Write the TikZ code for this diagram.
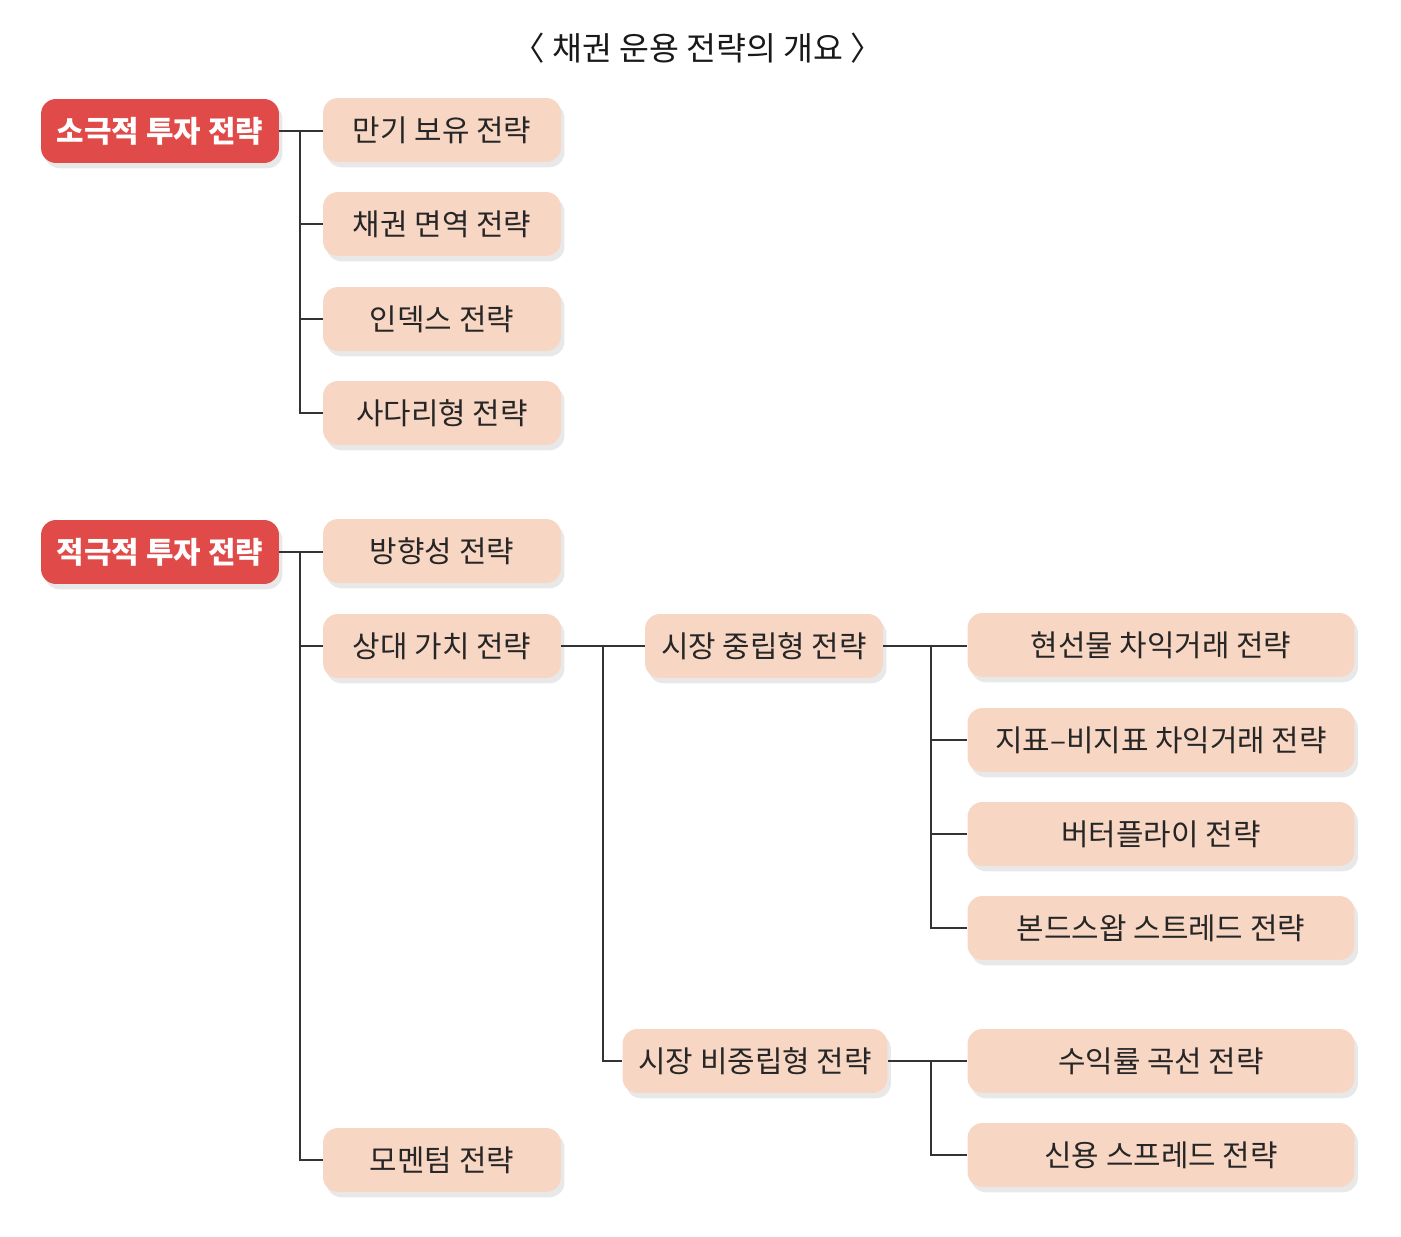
\documentclass[tikz,border=0pt]{standalone}
\usepackage{fontspec}
\setmainfont{Noto Sans CJK KR}
\usepackage{xcolor}
\usetikzlibrary{shadows}
\definecolor{accentColor}{RGB}{224, 74, 72}
\definecolor{boxColor}{RGB}{248, 214, 196}
\definecolor{lineColor}{RGB}{51, 51, 51}

\begin{document}
\begin{tikzpicture}[x=0.02cm, y=-0.02cm, font=\fontsize{17pt}{20pt}\selectfont,
    baseBox/.style={rounded corners=0.3cm, minimum height=1.28cm, inner sep=0pt,
        drop shadow={opacity=0.18, shadow xshift=2pt, shadow yshift=-3pt}},
    redBox/.style={baseBox, fill=accentColor, text=white, font=\fontsize{17pt}{20pt}\selectfont\bfseries, minimum width=4.76cm},
    peachBox/.style={baseBox, fill=boxColor, text=black!85, minimum width=4.76cm},
    wideBox/.style={peachBox, minimum width=7.74cm},
    branch/.style={lineColor, line width=1.2pt}]
					\useasboundingbox (0, 0) rectangle (1401, 1237);
					
					% Title
					\node[font=\fontsize{18.5pt}{22pt}\selectfont, text=black!90] (title) at (698, 48) {〈 채권 운용 전략의 개요 〉};
					
					% Passive strategies
					\node[redBox] (passive) at (160, 131) {소극적 투자 전략};
					\node[peachBox] (hold) at (442, 130) {만기 보유 전략};
					\node[peachBox] (immun) at (442, 224) {채권 면역 전략};
					\node[peachBox] (index) at (442, 319) {인덱스 전략};
					\node[peachBox] (ladder) at (442, 413) {사다리형 전략};
					
					% Active strategies
					\node[redBox] (active) at (160, 552) {적극적 투자 전략};
					\node[peachBox] (direction) at (442, 551) {방향성 전략};
					\node[peachBox] (relative) at (442, 646) {상대 가치 전략};
					\node[peachBox] (momentum) at (442, 1160) {모멘텀 전략};
					
					% Relative value branches
					\node[peachBox] (neutral) at (764, 646) {시장 중립형 전략};
					\node[peachBox, minimum width=5.3cm] (nonneutral) at (755, 1061) {시장 비중립형 전략};
					
					\node[wideBox] (arbitrage) at (1161, 645) {현선물 차익거래 전략};
					\node[wideBox] (benchmark) at (1161, 740) {지표–비지표 차익거래 전략};
					\node[wideBox] (butterfly) at (1161, 834) {버터플라이 전략};
					\node[wideBox] (swap) at (1161, 928) {본드스왑 스트레드 전략};
					\node[wideBox] (curve) at (1161, 1061) {수익률 곡선 전략};
					\node[wideBox] (credit) at (1161, 1155) {신용 스프레드 전략};
					
					% Connectors
					\coordinate (trunkA) at (300, 131);
					\coordinate (trunkB) at (300, 552);
					\coordinate (trunkC) at (603, 646);
					\coordinate (trunkD) at (931, 646);
					\coordinate (trunkE) at (931, 1061);
					
					\draw[branch] (passive.east) -- (passive.east -| hold.west);
					\foreach \n in {immun, index, ladder}
						\draw[branch] (trunkA) |- (\n.west);
					
					\draw[branch] (active.east) -- (active.east -| direction.west);
					\foreach \n in {relative, momentum}
						\draw[branch] (trunkB) |- (\n.west);
					
					\draw[branch] (relative.east) -- (neutral.west);
					\draw[branch] (trunkC) |- (nonneutral.west);
					
					\draw[branch] (neutral.east) -- (neutral.east -| arbitrage.west);
					\foreach \n in {benchmark, butterfly, swap}
						\draw[branch] (trunkD) |- (\n.west);
					
					\draw[branch] (nonneutral.east) -- (curve.west);
					\draw[branch] (trunkE) |- (credit.west);
				\end{tikzpicture}
\end{document}
